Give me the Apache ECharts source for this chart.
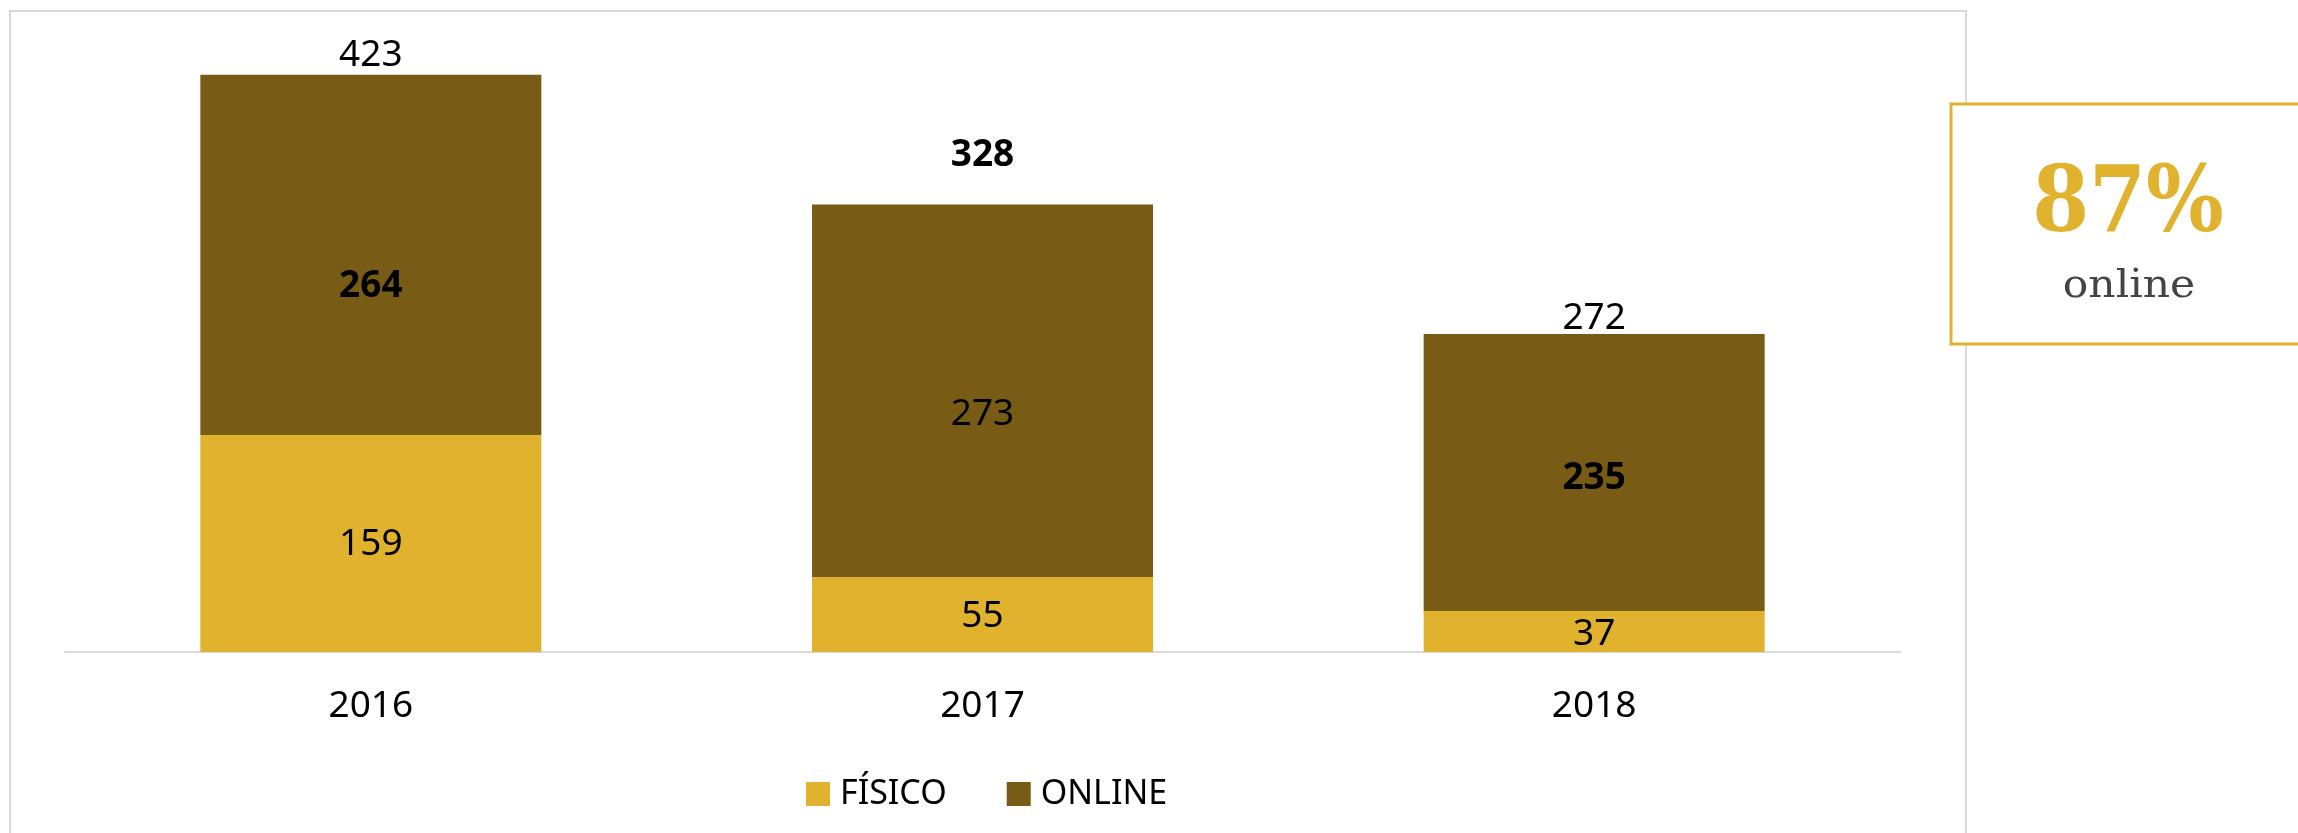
<!DOCTYPE html>
<html>
<head>
<meta charset="utf-8">
<script src="https://cdn.jsdelivr.net/npm/echarts@6/dist/echarts.min.js"></script>
<style>
html,body{margin:0;padding:0;background:#fff;}
#c{width:2298px;height:833px;}
</style>
</head>
<body>
<div id="c"></div>
<script>
// ---- data ----
const categories = ['2016', '2017', '2018'];
// bar heights as drawn in the picture
const fisicoValues = [159, 55, 30];
const onlineValues = [264, 273, 203];
// printed labels
const fisicoLabels = ['159', '55', '37'];
const onlineLabels = ['264', '273', '235'];
const totalLabels = ['423', '328', '272'];
const calloutValue = '87%';
const calloutText = 'online';

// ---- styles ----
const GOLD = '#E0B22E';
const BROWN = '#785B14';
const FONT = '"Noto Sans", "Open Sans", sans-serif';
const fisicoOffsets = [1, 2, 3];
const onlineOffsets = [32, 24, 6];
const totalOffsets = [-19, -49, -16];
const onlineBold = [true, false, true];
const totalBold = [false, true, false];

const chart = echarts.init(document.getElementById('c'), null, {renderer: 'canvas'});

function labelled(values, labels, offsets, bold, pos) {
  return values.map((v, i) => ({
    value: v,
    label: {
      show: true,
      position: pos,
      distance: 0,
      verticalAlign: 'middle',
      offset: [0, offsets[i]],
      fontWeight: bold && bold[i] ? 'bold' : 'normal',
      formatter: labels[i]
    }
  }));
}

const labelBase = {fontFamily: FONT, fontSize: 37, color: '#000'};

const option = {
  animation: false,
  backgroundColor: '#fff',
  grid: {left: 65, right: 398, top: 38, bottom: 181},
  legend: {
    data: ['FÍSICO', 'ONLINE'],
    left: 801,
    top: 772,
    itemWidth: 24,
    itemHeight: 24,
    itemGap: 60,
    icon: 'rect',
    textStyle: {fontFamily: FONT, fontSize: 34, color: '#000', padding: [0, 0, 0, 5]}
  },
  xAxis: {
    type: 'category',
    data: categories,
    axisLine: {lineStyle: {color: '#D9D9D9', width: 2}},
    axisTick: {show: false},
    axisLabel: {fontFamily: FONT, fontSize: 37, color: '#000', margin: 36}
  },
  yAxis: {
    type: 'value', min: 0, max: 450, interval: 450,
    show: false, splitLine: {show: false}
  },
  series: [
    {
      name: 'FÍSICO', type: 'bar', stack: 'a', barWidth: 341,
      itemStyle: {color: GOLD},
      label: Object.assign({show: true}, labelBase),
      data: labelled(fisicoValues, fisicoLabels, fisicoOffsets, null, 'inside')
    },
    {
      name: 'ONLINE', type: 'bar', stack: 'a', barWidth: 341,
      itemStyle: {color: BROWN},
      label: Object.assign({show: true}, labelBase),
      data: labelled(onlineValues, onlineLabels, onlineOffsets, onlineBold, 'inside')
    },
    {
      name: 'TOTAL', type: 'bar', stack: 'a', barWidth: 341,
      itemStyle: {color: 'transparent'},
      label: Object.assign({show: true}, labelBase),
      data: labelled(categories.map(() => 0), totalLabels, totalOffsets, totalBold, 'top')
    }
  ],
  graphic: [
    {
      type: 'rect', z: -1, silent: true,
      shape: {x: 10, y: 11, width: 1956, height: 900},
      style: {fill: 'none', stroke: '#D9D9D9', lineWidth: 2}
    },
    {
      type: 'rect', z: 10, silent: true,
      shape: {x: 1951, y: 104, width: 400, height: 240},
      style: {fill: '#fff', stroke: GOLD, lineWidth: 3}
    },
    {
      type: 'text', z: 11, silent: true,
      x: 2128, y: 207, scaleX: 0.89,
      style: {
        text: calloutValue, fill: GOLD,
        font: 'bold 92px "DejaVu Serif", serif',
        align: 'center', verticalAlign: 'middle'
      }
    },
    {
      type: 'text', z: 11, silent: true,
      x: 2129, y: 287, scaleX: 1.06,
      style: {
        text: calloutText, fill: '#444',
        font: '40px "DejaVu Serif", serif',
        align: 'center', verticalAlign: 'middle'
      }
    }
  ]
};
chart.setOption(option);
</script>
</body>
</html>
